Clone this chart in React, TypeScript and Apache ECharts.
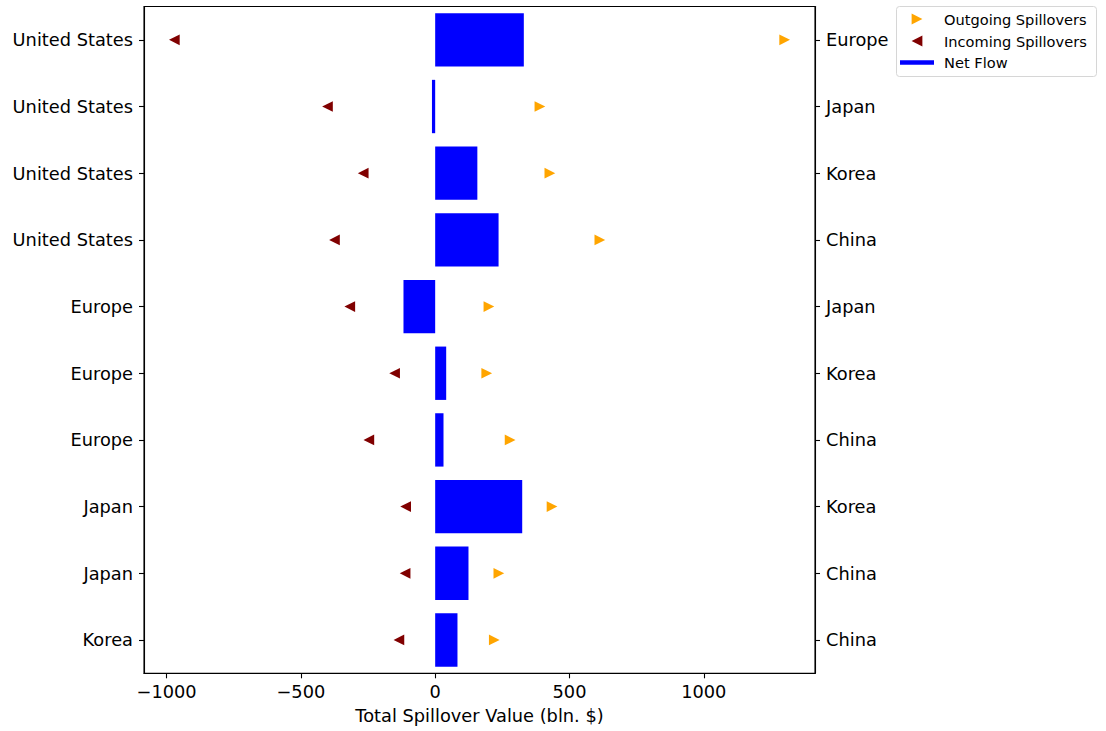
import React, { useEffect, useRef } from "react";
import * as echarts from "echarts";

const leftLabels = [
  "United States", "United States", "United States", "United States",
  "Europe", "Europe", "Europe", "Japan", "Japan", "Korea",
];
const rightLabels = [
  "Europe", "Japan", "Korea", "China", "Japan", "Korea", "China", "Korea", "China", "China",
];
const outgoing = [1301, 390, 427, 613, 200, 192, 279, 435, 237, 220];
const incoming = [-971, -401, -268, -375, -318, -151, -247, -110, -112, -135];
const netFlow = [330, -12, 157, 236, -118, 41, 31, 324, 124, 83];
const xTicks = [-1000, -500, 0, 500, 1000];

const FONT = "DejaVu Sans";
const AX = { color: "#000", width: 1.1 };
const FS = 17.8;

export default function App() {
  const ref = useRef<HTMLDivElement>(null);
  useEffect(() => {
    if (!ref.current) return;
    const chart = echarts.init(ref.current, undefined, { renderer: "svg" });
    const idx = leftLabels.map((_, i) => String(i));
    const fmtNum = (v: number) => (v < 0 ? "\u2212" + Math.abs(v) : String(v));
    chart.setOption({
      animation: false,
      backgroundColor: "#ffffff",
      textStyle: { fontFamily: FONT },
      grid: {
        left: 144,
        right: 291,
        top: 6.5,
        bottom: 57.7,
        show: true,
        borderColor: "#000",
        borderWidth: 1.1,
        backgroundColor: "rgba(0,0,0,0)",
        z: 5,
      },
      xAxis: {
        type: "value",
        min: -1084,
        max: 1414,
        position: "bottom",
        name: "Total Spillover Value (bln. $)",
        nameLocation: "middle",
        nameGap: 33,
        nameTextStyle: { fontSize: FS, color: "#000", fontFamily: FONT },
        axisLine: { show: true, onZero: false, lineStyle: AX },
        axisTick: { show: true, length: 5, customValues: xTicks, lineStyle: AX },
        axisLabel: {
          customValues: xTicks,
          margin: 9,
          fontSize: FS,
          color: "#000",
          fontFamily: FONT,
          formatter: (v: number) => fmtNum(v),
        },
        splitLine: { show: false },
      },
      yAxis: [
        {
          type: "category",
          data: idx,
          inverse: true,
          position: "left",
          axisLine: { show: true, onZero: false, lineStyle: AX },
          axisTick: { show: true, alignWithLabel: true, length: 5, lineStyle: AX },
          axisLabel: {
            margin: 11,
            fontSize: FS,
            color: "#000",
            fontFamily: FONT,
            formatter: (_v: string, i: number) => leftLabels[i],
          },
          splitLine: { show: false },
        },
        {
          type: "category",
          data: idx,
          inverse: true,
          position: "right",
          axisLine: { show: true, onZero: false, lineStyle: AX },
          axisTick: { show: true, alignWithLabel: true, length: 5, lineStyle: AX },
          axisLabel: {
            margin: 11,
            fontSize: FS,
            color: "#000",
            fontFamily: FONT,
            formatter: (_v: string, i: number) => rightLabels[i],
          },
          splitLine: { show: false },
        },
      ],
      series: [
        {
          name: "Net Flow",
          type: "bar",
          yAxisIndex: 0,
          data: netFlow,
          barWidth: "80%",
          itemStyle: { color: "#0000FF" },
          z: 1,
        },
        {
          name: "Outgoing Spillovers",
          type: "scatter",
          yAxisIndex: 0,
          data: outgoing.map((v, i) => [v, i]),
          symbol: "path://M0,0L2,1L0,2Z",
          symbolSize: [10.7, 10.7],
          itemStyle: { color: "#FFA500", opacity: 1 },
          z: 3,
        },
        {
          name: "Incoming Spillovers",
          type: "scatter",
          yAxisIndex: 0,
          data: incoming.map((v, i) => [v, i]),
          symbol: "path://M2,0L0,1L2,2Z",
          symbolSize: [10.7, 10.7],
          itemStyle: { color: "#800000", opacity: 1 },
          z: 3,
        },
      ],
      graphic: [
        {
          type: "rect",
          shape: { x: 896.5, y: 6.5, width: 200, height: 70, r: 3 },
          style: { fill: "#ffffff", stroke: "#d6d6d6", lineWidth: 1 },
          z: 10,
        },
        {
          type: "polygon",
          shape: { points: [[911.6, 13.6], [922.4, 19], [911.6, 24.4]] },
          style: { fill: "#FFA500" },
          z: 11,
        },
        {
          type: "polygon",
          shape: { points: [[922.4, 35.6], [911.6, 41], [922.4, 46.4]] },
          style: { fill: "#800000" },
          z: 11,
        },
        {
          type: "line",
          shape: { x1: 900, y1: 62.5, x2: 934, y2: 62.5 },
          style: { stroke: "#0000FF", lineWidth: 4.4 },
          z: 11,
        },
        {
          type: "text",
          x: 944,
          y: 19,
          style: { text: "Outgoing Spillovers", fontSize: 14.6, fontFamily: FONT, fill: "#000", verticalAlign: "middle" },
          z: 11,
        },
        {
          type: "text",
          x: 944,
          y: 41,
          style: { text: "Incoming Spillovers", fontSize: 14.6, fontFamily: FONT, fill: "#000", verticalAlign: "middle" },
          z: 11,
        },
        {
          type: "text",
          x: 944,
          y: 62.5,
          style: { text: "Net Flow", fontSize: 14.6, fontFamily: FONT, fill: "#000", verticalAlign: "middle" },
          z: 11,
        },
      ],
    });
    return () => chart.dispose();
  }, []);
  return <div ref={ref} style={{ position: "absolute", left: 0, top: 0, width: 1106, height: 731 }} />;
}
